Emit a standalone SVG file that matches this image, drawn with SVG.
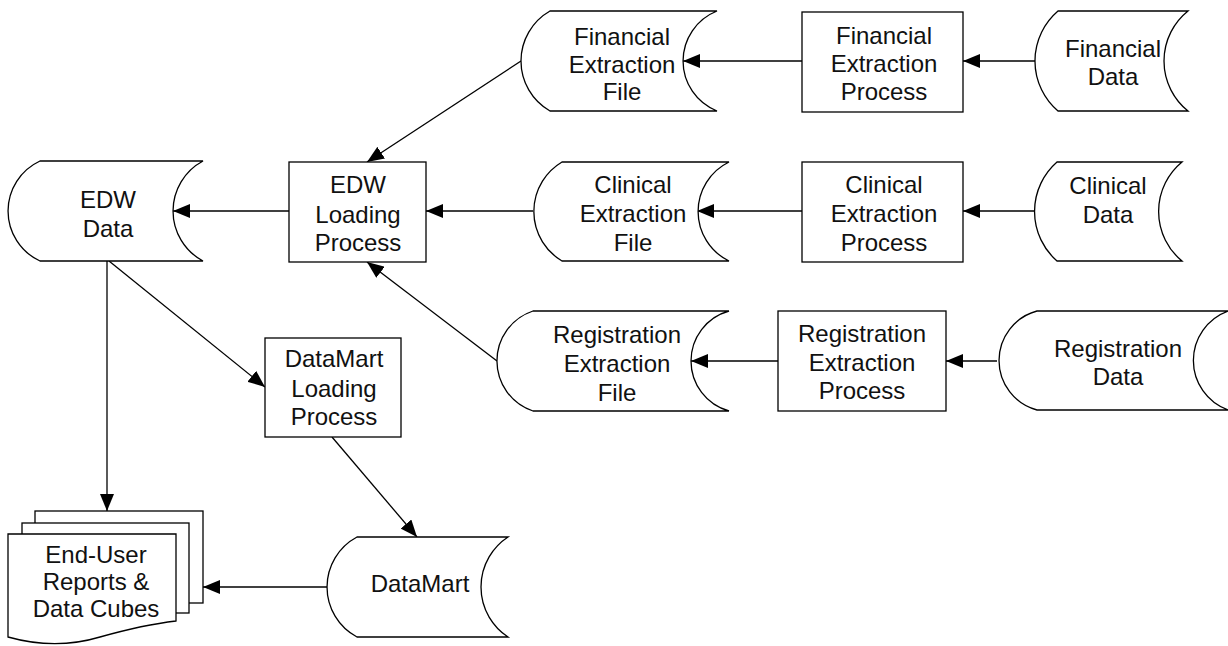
<svg xmlns="http://www.w3.org/2000/svg" width="1228" height="646" viewBox="0 0 1228 646">
<style>
.s{fill:#fff;stroke:#000;stroke-width:1.3}
.t{font-family:"Liberation Sans",Arial,sans-serif;font-size:24px;fill:#111;text-anchor:middle}
.c{stroke:#000;stroke-width:1.3;fill:none;marker-end:url(#ah)}
</style>
<defs>
<marker id="ah" markerUnits="userSpaceOnUse" markerWidth="17" markerHeight="14" refX="17" refY="7" orient="auto">
<path d="M0,0 L17,7 L0,14 z" fill="#000"/>
</marker>
</defs>
<rect width="1228" height="646" fill="#fff"/>
<g id="connectors">
<line class="c" x1="1035" y1="61" x2="963" y2="61"/>
<line class="c" x1="802" y1="61" x2="683" y2="61"/>
<line class="c" x1="521" y1="61" x2="367" y2="162"/>
<line class="c" x1="1034" y1="211" x2="963" y2="211"/>
<line class="c" x1="802" y1="211" x2="697" y2="211"/>
<line class="c" x1="533" y1="211" x2="426" y2="211"/>
<line class="c" x1="997" y1="361" x2="946" y2="361"/>
<line class="c" x1="778" y1="361" x2="691" y2="361"/>
<line class="c" x1="497" y1="361" x2="367" y2="262"/>
<line class="c" x1="289" y1="211" x2="173" y2="211"/>
<line class="c" x1="107" y1="261" x2="107" y2="511"/>
<line class="c" x1="109" y1="261" x2="265" y2="387"/>
<line class="c" x1="332" y1="437" x2="417" y2="537"/>
<line class="c" x1="327" y1="587" x2="203" y2="587"/>
</g>
<g id="financial-extraction-file">
<path class="s" d="M550,11 L717,11 A53.8,53.8 0 0 0 717,111 L550,111 A57.6,57.6 0 0 1 550,11 Z"/>
<text class="t" x="622" y="45">Financial</text>
<text class="t" x="622" y="73">Extraction</text>
<text class="t" x="622" y="100">File</text>
</g>
<g id="financial-extraction-process">
<rect class="s" x="802" y="12" width="161" height="100"/>
<text class="t" x="884" y="44">Financial</text>
<text class="t" x="884" y="72">Extraction</text>
<text class="t" x="884" y="100">Process</text>
</g>
<g id="financial-data">
<path class="s" d="M1058,11 L1188,11 A64.1,64.1 0 0 0 1188,111 L1058,111 A65.8,65.8 0 0 1 1058,11 Z"/>
<text class="t" x="1113" y="57">Financial</text>
<text class="t" x="1113" y="85">Data</text>
</g>
<g id="clinical-extraction-file">
<path class="s" d="M562,162 L729,162 A55.1,55.1 0 0 0 729,261 L562,261 A57.6,57.6 0 0 1 562,162 Z"/>
<text class="t" x="633" y="193">Clinical</text>
<text class="t" x="633" y="222">Extraction</text>
<text class="t" x="633" y="251">File</text>
</g>
<g id="clinical-extraction-process">
<rect class="s" x="802" y="162" width="161" height="100"/>
<text class="t" x="884" y="193">Clinical</text>
<text class="t" x="884" y="222">Extraction</text>
<text class="t" x="884" y="251">Process</text>
</g>
<g id="clinical-data">
<path class="s" d="M1057,162 L1182,162 A64.1,64.1 0 0 0 1182,261 L1057,261 A65.8,65.8 0 0 1 1057,162 Z"/>
<text class="t" x="1108" y="194">Clinical</text>
<text class="t" x="1108" y="223">Data</text>
</g>
<g id="registration-extraction-file">
<path class="s" d="M533,311 L729,311 A51.9,51.9 0 0 0 729,411 L533,411 A52.7,52.7 0 0 1 533,311 Z"/>
<text class="t" x="617" y="343">Registration</text>
<text class="t" x="617" y="372">Extraction</text>
<text class="t" x="617" y="401">File</text>
</g>
<g id="registration-extraction-process">
<rect class="s" x="778" y="311" width="168" height="100"/>
<text class="t" x="862" y="342">Registration</text>
<text class="t" x="862" y="371">Extraction</text>
<text class="t" x="862" y="399">Process</text>
</g>
<g id="registration-data">
<path class="s" d="M1037,311 L1228,311 A52.7,52.7 0 0 0 1228,410 L1037,410 A51.25,51.25 0 0 1 1037,311 Z"/>
<text class="t" x="1118" y="357">Registration</text>
<text class="t" x="1118" y="385">Data</text>
</g>
<g id="edw-loading-process">
<rect class="s" x="289" y="162" width="137" height="100"/>
<text class="t" x="358" y="193">EDW</text>
<text class="t" x="358" y="223">Loading</text>
<text class="t" x="358" y="251">Process</text>
</g>
<g id="edw-data">
<path class="s" d="M40,161 L203,161 A56.7,56.7 0 0 0 203,261 L40,261 A55.1,55.1 0 0 1 40,161 Z"/>
<text class="t" x="108" y="208">EDW</text>
<text class="t" x="108" y="237">Data</text>
</g>
<g id="datamart-loading-process">
<rect class="s" x="265" y="338" width="136" height="99"/>
<text class="t" x="334" y="367">DataMart</text>
<text class="t" x="334" y="397">Loading</text>
<text class="t" x="334" y="425">Process</text>
</g>
<g id="datamart">
<path class="s" d="M357,537 L508,537 A59.8,59.8 0 0 0 508,637 L357,637 A56.7,56.7 0 0 1 357,537 Z"/>
<text class="t" x="420" y="592">DataMart</text>
</g>
<g id="end-user-reports">
<rect class="s" x="35" y="511" width="168" height="92"/>
<rect class="s" x="22" y="523" width="167" height="90"/>
<path class="s" d="M8,534 L176,534 L176,621 C150,624 125,630 100,637 C70,646 40,646 8,637 Z"/>
<text class="t" x="96" y="563">End-User</text>
<text class="t" x="96" y="590">Reports &amp;</text>
<text class="t" x="96" y="617">Data Cubes</text>
</g>
</svg>
